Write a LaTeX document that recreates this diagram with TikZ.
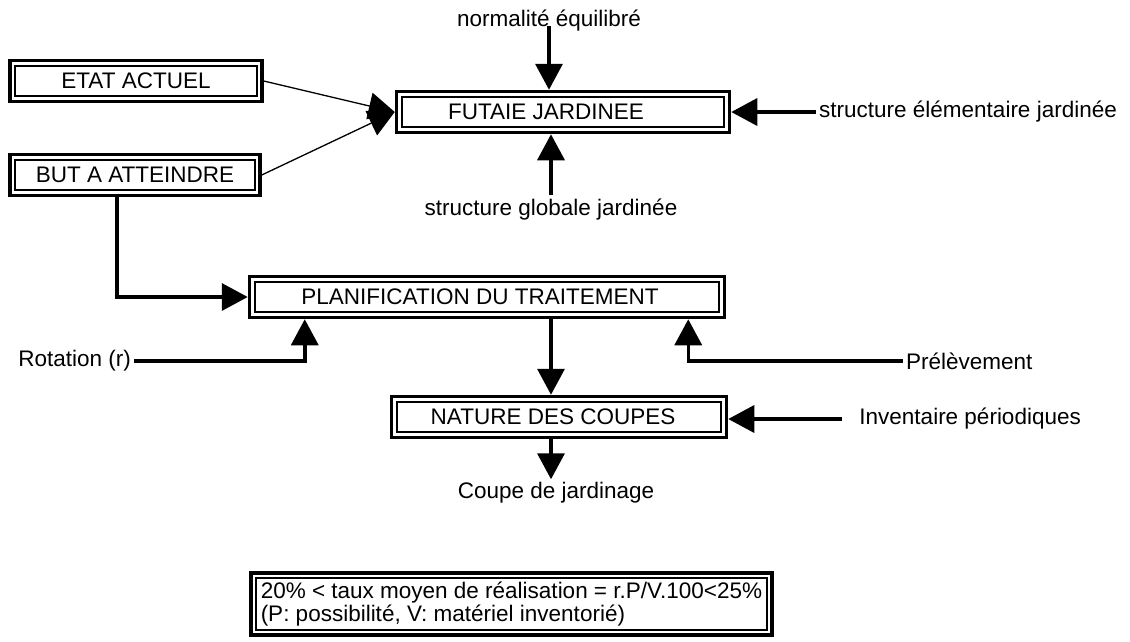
\documentclass[tikz,border=0pt]{standalone}
\usepackage{fontspec}
\setmainfont{Liberation Sans}
\usepackage{tikz}
\usetikzlibrary{arrows.meta, positioning}

\begin{document}
\begin{tikzpicture}[
    x=1pt, y=-1pt,
    font=\fontsize{22.5}{24}\selectfont,
    box/.style={rectangle, draw, line width=3.5pt, minimum height=41pt, align=center,
        append after command={\pgfextra{\draw[line width=2.2pt]
            ([shift={(7.1pt,-7.1pt)}]\tikzlastnode.north west) rectangle
            ([shift={(-7.1pt,7.1pt)}]\tikzlastnode.south east);}}},
    lbl/.style={inner sep=3pt},
    arrow/.style={line width=3.5pt, -{Triangle[length=26pt, width=27pt]}},
    thin arrow/.style={line width=1.3pt, -{Triangle[length=26pt, width=27pt]}},
]
    \useasboundingbox (0,0) rectangle (1130,641);

    % Boxes
    \node[box, minimum width=252pt] (etat) at (136,81) {ETAT ACTUEL};
    \node[box, minimum width=250pt] (but) at (135,175) {BUT A ATTEINDRE};
    \node[box, minimum width=333pt] (futaie) at (563,112) {\hspace*{-34pt}FUTAIE JARDINEE};
    \node[box, minimum width=475pt] (plan) at (487,297) {\hspace*{-14pt}PLANIFICATION DU TRAITEMENT};
    \node[box, minimum width=335pt] (nature) at (559,417) {\hspace*{-12pt}NATURE DES COUPES};
    \node[box, align=left, inner xsep=10pt, inner ysep=9pt, anchor=west,
        font=\fontsize{22.5}{23}\selectfont] (note) at (249,604)
        {20\% < taux moyen de réalisation = r.P/V.100<25\%\\(P: possibilité, V: matériel inventorié)};

    % Inputs and outputs
    \node[lbl, anchor=base] (norm) at (549,26) {normalité équilibré};
    \node[lbl, anchor=base] (glob) at (551,215) {structure globale jardinée};
    \node[lbl, anchor=west] (elem) at (816,112) {structure élémentaire jardinée};
    \node[lbl, anchor=east] (rot) at (134,361) {Rotation (r)};
    \node[lbl, anchor=west] (prel) at (903,361) {Prélèvement};
    \node[lbl, right=128pt of nature, yshift=-2pt] (inv) {Inventaire périodiques};
    \node[lbl, below=40pt of nature, xshift=-3pt] (coupe) {Coupe de jardinage};
    \coordinate (cut) at ([xshift=-8pt]nature.north);

    % Connect everything
    \draw[arrow] (norm.base) -- (norm.base |- futaie.north);
    \draw[arrow] (glob.north) -- (glob.north |- futaie.south);
    \draw[arrow] (elem.west) -- (elem.west -| futaie.east);
    \draw[thin arrow] (etat.east) -- (futaie.west);
    \draw[thin arrow] (but.east) -- (futaie.west);
    \draw[arrow] ([xshift=-18pt]but.south) |- (plan.west);
    \draw[arrow] (rot.east) -| ([xshift=57pt]plan.south west);
    \draw[arrow] (prel.west) -| ([xshift=-38pt]plan.south east);
    \draw[arrow] (cut |- plan.south) -- (cut);
    \draw[arrow] ([xshift=-14pt]inv.west) -- (inv.west -| nature.east);
    \draw[arrow] (cut |- nature.south) -- (cut |- coupe.north);
\end{tikzpicture}
\end{document}
